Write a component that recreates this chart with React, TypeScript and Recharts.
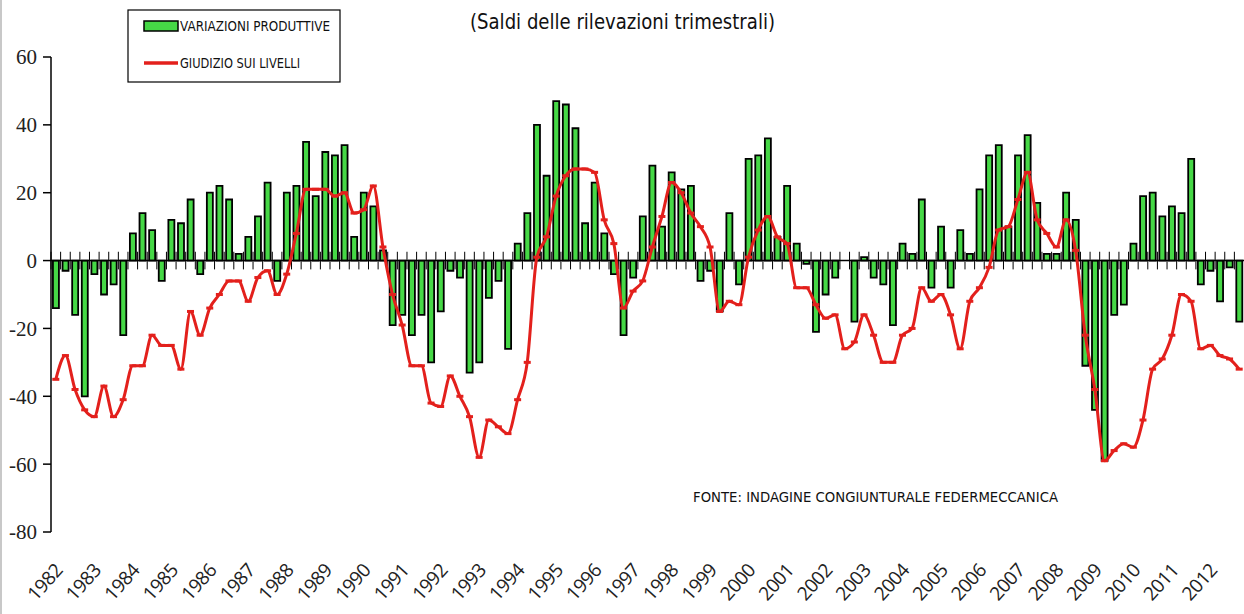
import React from "react";
import {
  Bar,
  ComposedChart,
  Line,
  ReferenceLine,
  XAxis,
  YAxis,
} from "recharts";

// anni del trimestrale, da 1982 a 2012
const years = [
  1982, 1983, 1984, 1985, 1986, 1987, 1988, 1989, 1990, 1991, 1992, 1993,
  1994, 1995, 1996, 1997, 1998, 1999, 2000, 2001, 2002, 2003, 2004, 2005,
  2006, 2007, 2008, 2009, 2010, 2011, 2012,
];

// saldi "variazioni produttive" (4 trimestri per anno)
const variazioni = [
  -14, -3, -16, -40, -4, -10, -7, -22, 8, 14, 9, -6, 12, 11, 18, -4,
  20, 22, 18, 2, 7, 13, 23, -6, 20, 22, 35, 19, 32, 31, 34, 7,
  20, 16, 3, -19, -16, -22, -16, -30, -15, -3, -5, -33, -30, -11, -6, -26,
  5, 14, 40, 25, 47, 46, 39, 11, 23, 8, -4, -22, -5, 13, 28, 10,
  26, 21, 22, -6, -3, -15, 14, -7, 30, 31, 36, 7, 22, 5, -1, -21,
  -10, -5, 0, -18, 1, -5, -7, -19, 5, 2, 18, -8, 10, -8, 9, 2,
  21, 31, 34, 10, 31, 37, 17, 2, 2, 20, 12, -31, -44, -59, -16, -13,
  5, 19, 20, 13, 16, 14, 30, -7, -3, -12, -2, -18,
];

// saldi "giudizio sui livelli"
const giudizio = [
  -35, -28, -38, -44, -46, -37, -46, -41, -31, -31, -22, -25, -25, -32, -15, -22,
  -14, -10, -6, -6, -12, -5, -3, -10, -4, 8, 21, 21, 21, 19, 20, 14,
  15, 22, 4, -10, -19, -31, -31, -42, -43, -34, -40, -46, -58, -47, -49, -51,
  -41, -30, 1, 7, 19, 25, 27, 27, 26, 12, 5, -14, -9, -6, 4, 13,
  23, 20, 14, 10, 4, -15, -12, -13, 1, 9, 13, 7, 5, -8, -8, -13,
  -17, -16, -26, -24, -16, -22, -30, -30, -22, -20, -8, -12, -10, -16, -26, -12,
  -8, -2, 9, 10, 18, 26, 12, 8, 4, 12, 3, -22, -38, -59, -56, -54,
  -55, -47, -32, -29, -22, -10, -12, -26, -25, -28, -29, -32,
];

const yTicks = [-80, -60, -40, -20, 0, 20, 40, 60];

const data = variazioni.map((v, i) => ({
  q: `${years[Math.floor(i / 4)]}-T${(i % 4) + 1}`,
  variazioni: v,
  giudizio: giudizio[i],
}));

const GREEN = "#46d846";
const RED = "#e3201c";

function YearTick(props: any) {
  const { x, y, payload, index } = props;
  if (index % 4 !== 0) return null;
  const label = String(payload.value).slice(0, 4);
  const tx = x + 8;
  const ty = y + 39;
  return (
    <text
      x={tx}
      y={ty}
      transform={`rotate(-48, ${tx}, ${ty})`}
      textAnchor="end"
      fontFamily="'Open Sans', sans-serif"
      fontSize={19}
      letterSpacing={-0.5}
      fill="#222"
    >
      {label}
    </text>
  );
}

function Marker(props: any) {
  const { cx, cy } = props;
  if (cx == null || cy == null) return null;
  return <rect x={cx - 3.5} y={cy - 1.5} width={7} height={3} fill={RED} />;
}

export default function App() {
  return (
    <div
      style={{
        position: "absolute",
        left: 0,
        top: 0,
        width: 1244,
        height: 614,
        background: "#fff",
        borderLeft: "2px solid #c8c8c8",
        boxSizing: "border-box",
      }}
    >
      <ComposedChart
        width={1242}
        height={614}
        data={data}
        margin={{ top: 57, right: 0, bottom: 0, left: 0 }}
        barCategoryGap="20%"
      >
        <XAxis
          dataKey="q"
          interval={0}
          axisLine={false}
          tickLine={false}
          tickSize={0}
          tickMargin={0}
          height={82}
          tick={<YearTick />}
        />
        <YAxis
          domain={[-80, 60]}
          ticks={yTicks}
          interval={0}
          width={49}
          tickSize={8}
          tickMargin={6}
          axisLine={{ stroke: "#000", strokeWidth: 1.5 }}
          tickLine={{ stroke: "#000", strokeWidth: 1.5 }}
          tick={{
            fill: "#222",
            fontSize: 21,
            fontFamily: "'Liberation Serif', serif",
          }}
        />
        <Bar
          dataKey="variazioni"
          fill={GREEN}
          stroke="#000"
          strokeWidth={1.8}
          isAnimationActive={false}
        />
        <ReferenceLine y={0} stroke="#000" strokeWidth={1.5} />
        {data.map((d) => (
          <ReferenceLine
            key={d.q}
            segment={[
              { x: d.q, y: -2.6 },
              { x: d.q, y: 2.6 },
            ]}
            position="start"
            stroke="#000"
            strokeWidth={1}
          />
        ))}
        <Line
          dataKey="giudizio"
          type="monotone"
          stroke={RED}
          strokeWidth={3}
          dot={<Marker />}
          activeDot={false}
          isAnimationActive={false}
        />
      </ComposedChart>
      <svg
        width={1244}
        height={614}
        style={{ position: "absolute", left: -2, top: 0, pointerEvents: "none" }}
      >
        <text
          x={470}
          y={29}
          fontFamily="'DejaVu Sans', sans-serif"
          fontSize={22}
          fill="#111"
          textLength={305}
          lengthAdjust="spacingAndGlyphs"
        >
          (Saldi delle rilevazioni trimestrali)
        </text>
        <rect x={128} y={10} width={212} height={72} fill="#fff" stroke="#000" strokeWidth={1.2} />
        <rect x={144} y={21} width={34} height={10} fill={GREEN} stroke="#000" strokeWidth={1.5} />
        <text
          x={180}
          y={31}
          fontFamily="'DejaVu Sans', sans-serif"
          fontSize={14}
          fill="#111"
          textLength={150}
          lengthAdjust="spacingAndGlyphs"
        >
          VARIAZIONI PRODUTTIVE
        </text>
        <line x1={144} y1={63} x2={178} y2={63} stroke={RED} strokeWidth={3.5} />
        <text
          x={180}
          y={68}
          fontFamily="'DejaVu Sans', sans-serif"
          fontSize={14}
          fill="#111"
          textLength={120}
          lengthAdjust="spacingAndGlyphs"
        >
          GIUDIZIO SUI LIVELLI
        </text>
        <text
          x={693}
          y={502}
          fontFamily="'DejaVu Sans', sans-serif"
          fontSize={14}
          fill="#111"
          textLength={365}
          lengthAdjust="spacingAndGlyphs"
        >
          FONTE: INDAGINE CONGIUNTURALE FEDERMECCANICA
        </text>
      </svg>
    </div>
  );
}
